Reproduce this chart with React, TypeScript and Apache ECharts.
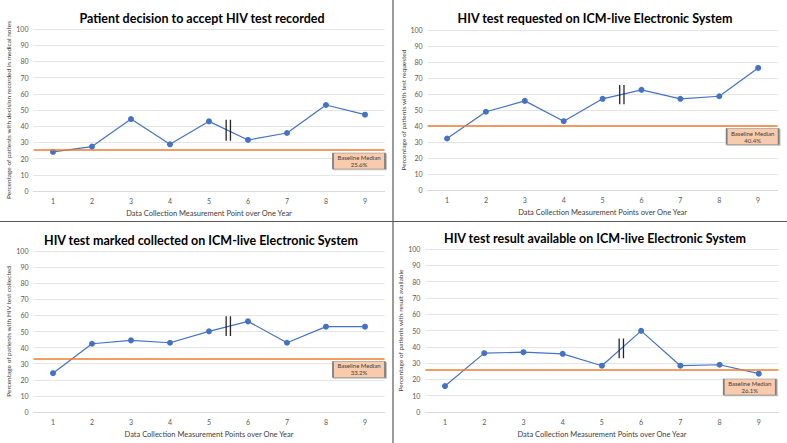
import React, { useEffect, useRef } from "react";
import * as echarts from "echarts";

const categories = ["1", "2", "3", "4", "5", "6", "7", "8", "9"];
const decisionValues = [24.1, 27.4, 44.4, 28.8, 43.0, 31.5, 35.8, 53.1, 47.1];
const requestedValues = [32.2, 48.9, 55.7, 43.0, 57.0, 62.6, 57.0, 58.6, 76.3];
const collectedValues = [24.1, 42.4, 44.5, 43.0, 50.1, 56.3, 43.0, 53.0, 53.0];
const availableValues = [15.9, 36.1, 36.7, 35.7, 28.4, 49.8, 28.4, 29.0, 23.5];
const baselineMedians = [25.6, 40.4, 33.2, 26.1];
const baselineLabels = ["25.6%", "40.4%", "33.2%", "26.1%"];
const boxLevels = [18.5, 33.4, 26.4, 15.3];
const breakRanges = [
  [31, 44],
  [53.6, 65.7],
  [47.2, 59.5],
  [32.9, 45.1],
];
const breakPositions = [5.44, 5.55];
const titles = [
  "Patient decision to accept HIV test recorded",
  "HIV test requested on ICM-live Electronic System",
  "HIV test marked collected on ICM-live Electronic System",
  "HIV test result available on ICM-live Electronic System",
];
const yNames = [
  "Percentage of patients with decision recorded in medical notes",
  "Percentage of patients with test requested",
  "Percentage of patients with HIV test collected",
  "Percentage of patients with result available",
];
const xNames = [
  "Data Collection Measurement Point over One Year",
  "Data Collection Measurement Points over One Year",
  "Data Collection Measurement Points over One Year",
  "Data Collection Measurement Points over One Year",
];
const seriesValues = [decisionValues, requestedValues, collectedValues, availableValues];

const FONT = "Lato";

const grids = [
  { left: 33.5, top: 29, width: 351, height: 162 },
  { left: 427.6, top: 30, width: 350, height: 160 },
  { left: 33.5, top: 251, width: 351, height: 161 },
  { left: 425.4, top: 249, width: 353, height: 163 },
];
const titlePos = [
  { x: 197, y: 7 },
  { x: 590, y: 7 },
  { x: 196, y: 229 },
  { x: 590, y: 227 },
];
const boxOffsets = [-6, -5.5, -6, -9];
const yNameGaps = [18, 20, 19, 20];

export default function App() {
  const ref = useRef<HTMLDivElement>(null);
  useEffect(() => {
    if (!ref.current) return;
    const chart = echarts.init(ref.current, undefined, { renderer: "svg" });
    const xAxis: any[] = [];
    const yAxis: any[] = [];
    const series: any[] = [];
    for (let i = 0; i < 4; i++) {
      xAxis.push({
        type: "category",
        gridIndex: i,
        data: categories,
        boundaryGap: true,
        axisLine: { show: true, lineStyle: { color: "#d9d9d9", width: 1 } },
        axisTick: { show: false },
        axisLabel: { fontSize: 7, color: "#595959", fontFamily: FONT, margin: 6 },
        name: xNames[i],
        nameLocation: "middle",
        nameGap: 18,
        nameTextStyle: { fontSize: 7.5, color: "#404040", fontFamily: FONT },
      });
      yAxis.push({
        type: "value",
        gridIndex: i,
        min: 0,
        max: 100,
        interval: 10,
        axisLine: { show: false },
        axisTick: { show: false },
        splitLine: { lineStyle: { color: "#e5e5e5", width: 1 } },
        axisLabel: { fontSize: 7, color: "#595959", fontFamily: FONT, margin: 5 },
        name: yNames[i],
        nameLocation: "middle",
        nameGap: yNameGaps[i],
        nameTextStyle: { fontSize: 6.5, color: "#404040", fontFamily: FONT },
      });
    }
    for (let i = 0; i < 4; i++) {
      xAxis.push({
        type: "value",
        gridIndex: i,
        min: 0.5,
        max: 9.5,
        show: false,
      });
    }
    for (let i = 0; i < 4; i++) {
      series.push({
        type: "line",
        xAxisIndex: i,
        yAxisIndex: i,
        data: seriesValues[i],
        symbol: "circle",
        symbolSize: 6,
        lineStyle: { color: "#4472C4", width: 1.2 },
        itemStyle: { color: "#4472C4" },
        z: 3,
        markLine: {
          silent: true,
          symbol: ["none", "none"],
          label: { show: false },
          lineStyle: { color: "#ED7D31", width: 1.5, type: "solid" },
          data: [{ yAxis: baselineMedians[i] }],
        },
        markPoint: {
          silent: true,
          symbol: "rect",
          symbolSize: [52, 16],
          itemStyle: {
            color: "#F8CBAD",
            borderColor: "#7f7f7f",
            borderWidth: 1,
            shadowColor: "rgba(0,0,0,0.25)",
            shadowOffsetX: 1,
            shadowOffsetY: 1,
            shadowBlur: 1,
          },
          label: {
            show: true,
            position: "inside",
            formatter: "Baseline Median\n" + baselineLabels[i],
            fontSize: 6,
            lineHeight: 7,
            color: "#404040",
            fontFamily: FONT,
          },
          data: [
            {
              coord: [8, boxLevels[i]],
              symbolOffset: [boxOffsets[i], 0],
            },
          ],
        },
      });
      for (const bx of breakPositions) {
        series.push({
          type: "line",
          xAxisIndex: 4 + i,
          yAxisIndex: i,
          data: [
            [bx, breakRanges[i][0]],
            [bx, breakRanges[i][1]],
          ],
          symbol: "none",
          lineStyle: { color: "#262626", width: 1.3 },
          z: 4,
          silent: true,
        });
      }
    }
    chart.setOption({
      animation: false,
      backgroundColor: "#ffffff",
      title: titles.map((t, i) => ({
        text: t,
        left: titlePos[i].x,
        top: titlePos[i].y,
        textAlign: "center",
        textStyle: { fontSize: 12.5, fontWeight: "bold", color: "#000000", fontFamily: FONT },
      })),
      grid: grids,
      xAxis,
      yAxis,
      series,
      graphic: [
        { type: "line", shape: { x1: 393, y1: 0, x2: 393, y2: 443 }, style: { stroke: "#595959", lineWidth: 1.2 } },
        { type: "line", shape: { x1: 0, y1: 221.5, x2: 787, y2: 221.5 }, style: { stroke: "#595959", lineWidth: 1.2 } },
      ],
    });
    return () => chart.dispose();
  }, []);
  return (
    <div
      ref={ref}
      style={{ position: "absolute", left: 0, top: 0, width: 787, height: 443 }}
    />
  );
}
